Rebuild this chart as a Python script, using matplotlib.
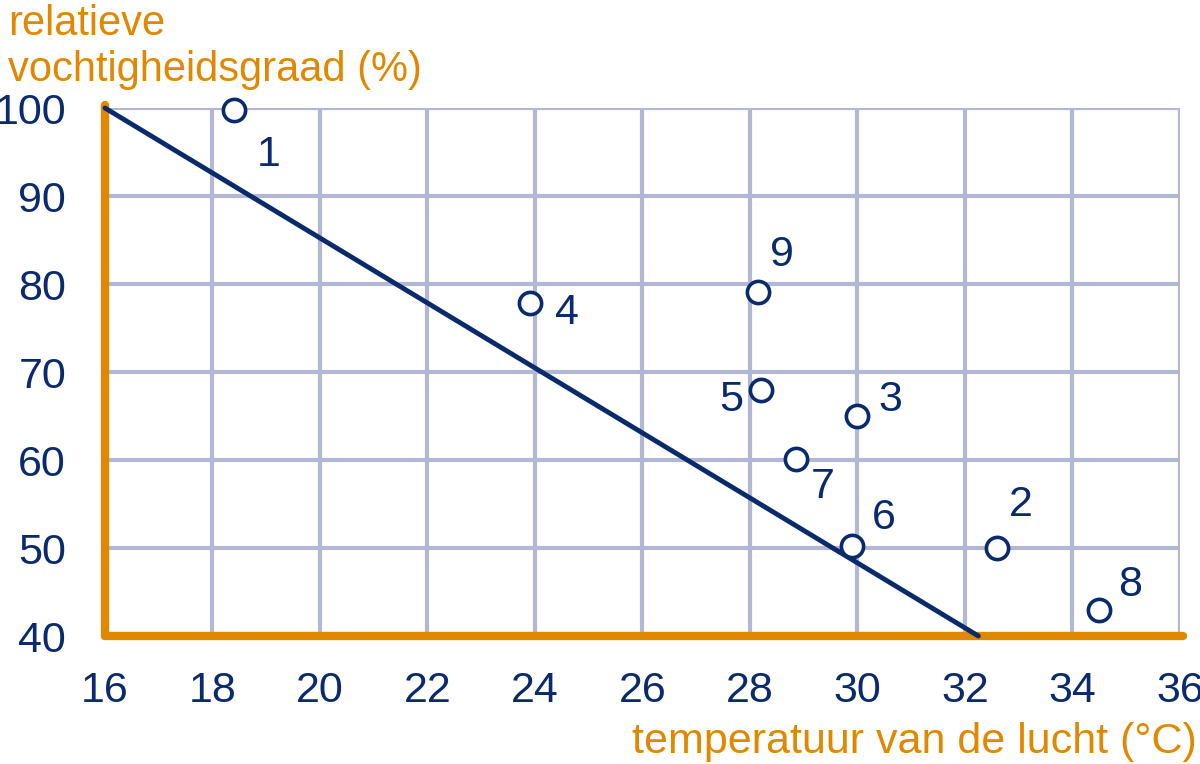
import numpy as np
import matplotlib
matplotlib.use('Agg')
import matplotlib.pyplot as plt

plt.rcParams['font.family'] = ['Liberation Sans', 'DejaVu Sans']

# Meetpunten: temperatuur (°C) en relatieve vochtigheid (%)
labels = ['1', '2', '3', '4', '5', '6', '7', '8', '9']
temperatuur = [18.4, 32.6, 30.0, 23.9, 28.2, 29.9, 28.85, 34.5, 28.15]
vochtigheid = [99.8, 50, 65, 77.8, 68, 50.2, 60.1, 43, 79.1]

# Grenslijn
lijn_x = [16, 32.25]
lijn_y = [100, 40]

x_ticks = [16, 18, 20, 22, 24, 26, 28, 30, 32, 34, 36]
y_ticks = [40, 50, 60, 70, 80, 90, 100]

# label offsets in pixels (stijl)
offsets = [(35, -45), (24, 43), (33, 16), (37, -10), (-30, -10),
           (32, 28), (27, -28), (31, 25), (24, 37)]

navy = '#0b2a6b'
oranje = '#e08800'
rooster = '#b3b7d6'

fig = plt.figure(figsize=(12, 7.64), dpi=100)
ax = fig.add_axes([0.0875, 0.1675, 0.8958, 0.6911])

ax.set_xlim(16, 36)
ax.set_ylim(40, 100)
ax.set_xticks(x_ticks)
ax.set_yticks(y_ticks)
ax.grid(True, color=rooster, linewidth=3)
ax.set_axisbelow(True)
for s in ax.spines.values():
    s.set_visible(False)
ax.tick_params(length=0, labelsize=31, colors=navy)
ax.tick_params(axis='x', pad=25)
ax.tick_params(axis='y', pad=28)

# assen in oranje
ax.plot([16, 16], [40, 100.4], color=oranje, linewidth=6, solid_capstyle='round', clip_on=False, zorder=3)
ax.plot([16, 36.05], [40, 40], color=oranje, linewidth=6, solid_capstyle='round', clip_on=False, zorder=3)

ax.plot(lijn_x, lijn_y, color=navy, linewidth=3.5, solid_capstyle='round', clip_on=False, zorder=4)

ax.plot(temperatuur, vochtigheid, 'o', markersize=16, markerfacecolor='white',
        markeredgecolor=navy, markeredgewidth=2.6, clip_on=False, zorder=5)

for lab, x, y, (dx, dy) in zip(labels, temperatuur, vochtigheid, offsets):
    ax.annotate(lab, (x, y), xytext=(dx / 1.389, dy / 1.389), textcoords='offset points',
                ha='center', va='center', fontsize=31, color=navy)

fig.text(8 / 1200, 1 - 4 / 764, 'relatieve\nvochtigheidsgraad (%)', ha='left', va='top',
         fontsize=30, color=oranje, linespacing=1.2)
fig.text(1197 / 1200, 1 - 742 / 764, 'temperatuur van de lucht (°C)', ha='right', va='center',
         fontsize=31, color=oranje)

fig.savefig('out.png', dpi=100)
